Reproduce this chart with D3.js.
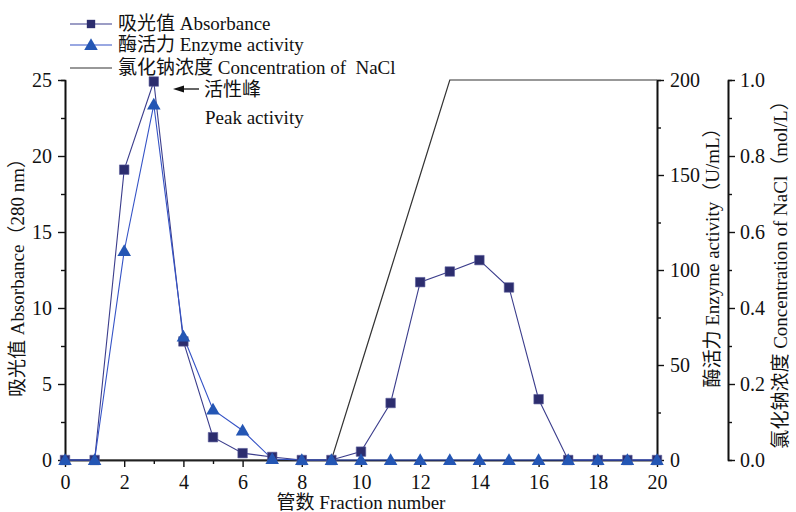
<!DOCTYPE html>
<html><head><meta charset="utf-8">
<script src="https://cdn.jsdelivr.net/npm/d3@7"></script>
<style>
html,body{margin:0;padding:0;background:#fff;}
svg text{font-family:"Liberation Serif","Noto Sans CJK SC",serif;fill:#111;}
</style></head>
<body><svg id="c" width="796" height="512"></svg>
<script>
const fractions = [0,1,2,3,4,5,6,7,8,9,10,11,12,13,14,15,16,17,18,19,20];
const absorbance = [0,0,19.1,24.9,7.8,1.5,0.45,0.2,0,0,0.55,3.75,11.7,12.4,13.15,11.35,4.0,0,0,0,0];
const enzyme = [0,0,110,187,65,26.5,15.5,0.5,0,0,0,0,0,0,0,0,0,0,0,0,0];
const nacl = [0,0,0,0,0,0,0,0,0,0,0.25,0.5,0.75,1,1,1,1,1,1,1,1];
const xTicks = [0,2,4,6,8,10,12,14,16,18,20];
const yATicks = [0,5,10,15,20,25];
const yETicks = [0,50,100,150,200];
const yNTicks = [0,0.2,0.4,0.6,0.8,1.0];
const legendLabels = ["吸光值 Absorbance","酶活力 Enzyme activity","氯化钠浓度 Concentration of  NaCl"];

const svg = d3.select("#c");
const L=65,R=657,T=80,B=460;
const x = d3.scaleLinear([0,20],[L,R]);
const yA = d3.scaleLinear([0,25],[B,T]);
const yE = d3.scaleLinear([0,200],[B,T]);
const yN = d3.scaleLinear([0,1],[B,T]);

const cSq="#2c2d6e", cSqLine="#3b3d8c", cTri="#2456b4", cTriLine="#3553c6";

function styleAxis(g){
  g.selectAll("path.domain").attr("stroke","#111").attr("stroke-width",1.6);
  g.selectAll(".tick line").attr("stroke","#111").attr("stroke-width",1.4);
  g.selectAll(".tick text").style("font-size","20px").attr("fill","#111");
}
function axisPair(axisFn, scale, majors, minors, fmt, transform, pad){
  const gm = svg.append("g").attr("transform",transform)
    .call(axisFn(scale).tickValues(minors).tickSize(4).tickFormat(""));
  styleAxis(gm);
  const g = svg.append("g").attr("transform",transform)
    .call(axisFn(scale).tickValues(majors).tickSize(7).tickSizeOuter(0).tickFormat(fmt).tickPadding(pad));
  styleAxis(g);
  return g;
}
const xMinor = fractions.filter(d=>d%2===1);
axisPair(d3.axisBottom, x, xTicks, xMinor, d3.format("d"), `translate(0,${B})`, 8);
axisPair(d3.axisLeft, yA, yATicks, [2.5,7.5,12.5,17.5,22.5], d3.format("d"), `translate(${L},0)`, 6);
axisPair(d3.axisRight, yE, yETicks, [25,75,125,175], d3.format("d"), `translate(${R},0)`, 6);
axisPair(d3.axisRight, yN, yNTicks, [0.1,0.3,0.5,0.7,0.9], d3.format(".1f"), `translate(728,0)`, 5);

// NaCl line
svg.append("path").datum(fractions)
  .attr("fill","none").attr("stroke","#333").attr("stroke-width",1.2)
  .attr("d", d3.line().x(i=>x(i)).y(i=>yN(nacl[i])));

svg.append("path").datum(fractions)
  .attr("fill","none").attr("stroke",cSqLine).attr("stroke-width",1.1)
  .attr("d", d3.line().x(i=>x(i)).y(i=>yA(absorbance[i])));
svg.append("path").datum(fractions)
  .attr("fill","none").attr("stroke",cTriLine).attr("stroke-width",1.1)
  .attr("d", d3.line().x(i=>x(i)).y(i=>yE(enzyme[i])));

const sqSym = d3.symbol().type(d3.symbolSquare).size(90);
const triSym = d3.symbol().type(d3.symbolTriangle).size(80);
svg.append("g").selectAll("path").data(fractions).join("path")
  .attr("transform",i=>`translate(${x(i)},${yA(absorbance[i])})`)
  .attr("d",sqSym).attr("fill",cSq).attr("stroke","#5a5c9a").attr("stroke-width",0.6);
svg.append("g").selectAll("path").data(fractions).join("path")
  .attr("transform",i=>`translate(${x(i)},${yE(enzyme[i])+1})`)
  .attr("d",triSym).attr("fill",cTri);

// legend
const lg = svg.append("g");
const rows=[24,45,68];
rows.forEach((yy,k)=>{
  lg.append("line").attr("x1",70).attr("x2",112).attr("y1",yy).attr("y2",yy)
    .attr("stroke",k===0?cSqLine:(k===1?cTriLine:"#333")).attr("stroke-width",1.1);
  if(k===0) lg.append("path").attr("transform",`translate(91,${yy})`).attr("d",d3.symbol().type(d3.symbolSquare).size(70)).attr("fill",cSq);
  if(k===1) lg.append("path").attr("transform",`translate(91,${yy+1})`).attr("d",d3.symbol().type(d3.symbolTriangle).size(80)).attr("fill",cTri);
  lg.append("text").attr("x",118).attr("y",yy+6).style("font-size","19px").style("white-space","pre").text(legendLabels[k]);
});

// annotation: arrow pointing left toward the peak
svg.append("line").attr("x1",199).attr("x2",182).attr("y1",89).attr("y2",89)
  .attr("stroke","#111").attr("stroke-width",1.3);
svg.append("path").attr("d","M173,89 L184,85.5 L184,92.5 Z").attr("fill","#111");
svg.append("text").attr("x",204).attr("y",96).style("font-size","19px").text("活性峰");
svg.append("text").attr("x",205).attr("y",124).style("font-size","19px").text("Peak activity");

// axis titles
svg.append("text").attr("x",361).attr("y",509).attr("text-anchor","middle").style("font-size","19px").text("管数 Fraction number");
svg.append("text").attr("transform","translate(24,273) rotate(-90)").attr("text-anchor","middle").style("font-size","19px").text("吸光值 Absorbance（280 nm）");
svg.append("text").attr("transform","translate(719,253) rotate(-90)").attr("text-anchor","middle").style("font-size","19px").text("酶活力 Enzyme activity（U/mL）");
svg.append("text").attr("transform","translate(787,270) rotate(-90)").attr("text-anchor","middle").style("font-size","19px").text("氯化钠浓度 Concentration of  NaCl（mol/L）");
</script></body></html>
